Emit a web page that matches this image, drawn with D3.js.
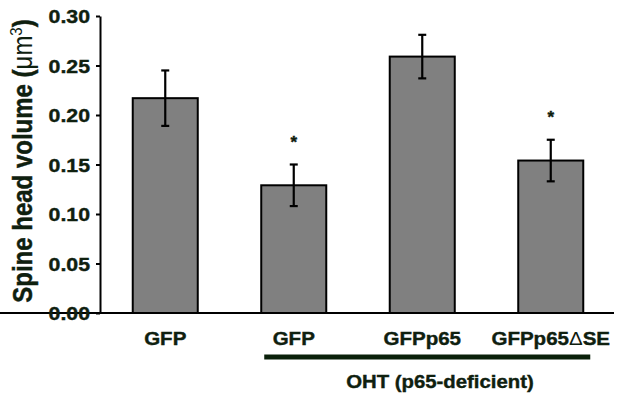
<!DOCTYPE html>
<html>
<head>
<meta charset="utf-8">
<script src="https://cdn.jsdelivr.net/npm/d3@7"></script>
<style>
    body { margin: 0; background: #fff; }
    svg { display: block; }
    .label { font-family: "Liberation Sans", Arial, sans-serif; font-weight: bold; fill: #0f200f; stroke: #0f200f; stroke-width: 0.4px; }
</style>
</head>
<body>
<div id="chart"></div>
<script>
// Chart data
const categories = ["GFP", "GFP", "GFPp65", "GFPp65\u0394SE"];
const means = [0.217, 0.129, 0.259, 0.154];
const errors = [0.028, 0.021, 0.022, 0.021];
const significant = [false, true, false, true];
const yTicks = [0, 0.05, 0.10, 0.15, 0.20, 0.25, 0.30];
const groupLabel = "OHT (p65-deficient)";

drawBarChart();

// stretch text horizontally to match the slightly wide lettering of the figure
function stretch(sel, k) {
    sel.each(function() {
        let w = this.getComputedTextLength();
        d3.select(this)
            .attr("textLength", w * k)
            .attr("lengthAdjust", "spacingAndGlyphs");
    });
}

function drawBarChart() {
    const width = 623, height = 395;

    let svg = d3.select("#chart")
        .append("svg")
        .attr("width", width)
        .attr("height", height);

    // Scales
    let x = d3.scaleBand()
        .domain(categories.map((d, i) => i))
        .range([101, 615])
        .paddingInner(0.494)
        .paddingOuter(0.247);

    let y = d3.scaleLinear()
        .domain([0, 0.3])
        .range([313, 16]);

    // Bars
    svg.selectAll("rect.bar")
        .data(means)
        .enter()
        .append("rect")
        .attr("class", "bar")
        .attr("x", (d, i) => x(i))
        .attr("y", d => y(d))
        .attr("width", x.bandwidth())
        .attr("height", d => y(0) - y(d))
        .attr("fill", "#808080")
        .attr("stroke", "#000")
        .attr("stroke-width", 2);

    // Error bars
    let errG = svg.append("g")
        .attr("stroke", "#000")
        .attr("stroke-width", 2.2);

    means.forEach((m, i) => {
        let cx = x(i) + x.bandwidth() / 2;
        errG.append("line")
            .attr("x1", cx).attr("x2", cx)
            .attr("y1", y(m + errors[i])).attr("y2", y(m - errors[i]));
        [m + errors[i], m - errors[i]].forEach(v => {
            errG.append("line")
                .attr("x1", cx - 4).attr("x2", cx + 4)
                .attr("y1", y(v)).attr("y2", y(v));
        });
    });

    // Significance stars
    svg.selectAll("text.star")
        .data(means.map((m, i) => ({m: m, i: i})).filter(d => significant[d.i]))
        .enter()
        .append("text")
        .attr("class", "label")
        .attr("x", d => x(d.i) + x.bandwidth() / 2)
        .attr("y", d => y(d.m + errors[d.i]) - 17)
        .attr("text-anchor", "middle")
        .attr("font-size", 17)
        .text("*");

    // X axis (line only, category labels below)
    let xAxis = d3.axisBottom(x)
        .tickSize(0)
        .tickFormat(i => categories[i]);

    let xGroup = svg.append("g")
        .attr("transform", `translate(0, ${y(0)})`)
        .call(xAxis);

    xGroup.select(".domain")
        .attr("d", "M-1,0H614")
        .attr("stroke", "#000")
        .attr("stroke-width", 2);

    xGroup.selectAll(".tick text")
        .attr("class", "label")
        .attr("font-size", 19)
        .attr("dy", 0)
        .attr("y", 32)
        .each(function(i) {
            // the delta is set in a lighter symbol face
            let t = d3.select(this);
            let parts = categories[i].split("\u0394");
            t.text(null);
            t.append("tspan").text(parts[0]);
            if (parts.length > 1) {
                t.append("tspan").attr("font-weight", "normal").style("stroke-width", 0).text("\u0394");
                t.append("tspan").text(parts[1]);
            }
        })
        .call(stretch, 1.08);

    // Y axis
    let yAxis = d3.axisLeft(y)
        .tickValues(yTicks)
        .tickFormat(d3.format(".2f"))
        .tickSize(4)
        .tickSizeOuter(0)
        .tickPadding(6);

    let yGroup = svg.append("g")
        .attr("transform", "translate(100, 0)")
        .call(yAxis);

    yGroup.select(".domain")
        .attr("stroke", "#000")
        .attr("stroke-width", 2);

    yGroup.selectAll(".tick line")
        .attr("stroke", "#000")
        .attr("stroke-width", 2);

    yGroup.selectAll(".tick text")
        .attr("class", "label")
        .attr("font-size", 19)
        .attr("dy", "0.36em")
        .call(stretch, 1.12);

    // Y axis title
    let yTitle = svg.append("text")
        .attr("class", "label")
        .attr("font-size", 24)
        .attr("text-anchor", "middle")
        .attr("transform", "translate(32, 161) scale(1.12, 1) rotate(-90)");
    yTitle.append("tspan").text("Spine head volume (");
    yTitle.append("tspan").attr("font-weight", "normal").style("stroke-width", 0).text("\u03bc");
    yTitle.append("tspan").attr("font-weight", "normal").style("stroke-width", 0).text("m");
    yTitle.append("tspan").attr("font-weight", "normal").style("stroke-width", 0).attr("font-size", 15).attr("dy", -9).text("3");
    yTitle.append("tspan").attr("dy", 9).text(")");

    // Group bracket line and label
    svg.append("line")
        .attr("x1", x(1) + 3)
        .attr("x2", x(3) + x.bandwidth() + 7)
        .attr("y1", 357)
        .attr("y2", 357)
        .attr("stroke", "#0a200a")
        .attr("stroke-width", 5);

    svg.append("text")
        .attr("class", "label")
        .attr("font-size", 19)
        .attr("x", 440)
        .attr("y", 388)
        .attr("text-anchor", "middle")
        .text(groupLabel)
        .call(stretch, 1.07);
}
</script>
</body>
</html>
